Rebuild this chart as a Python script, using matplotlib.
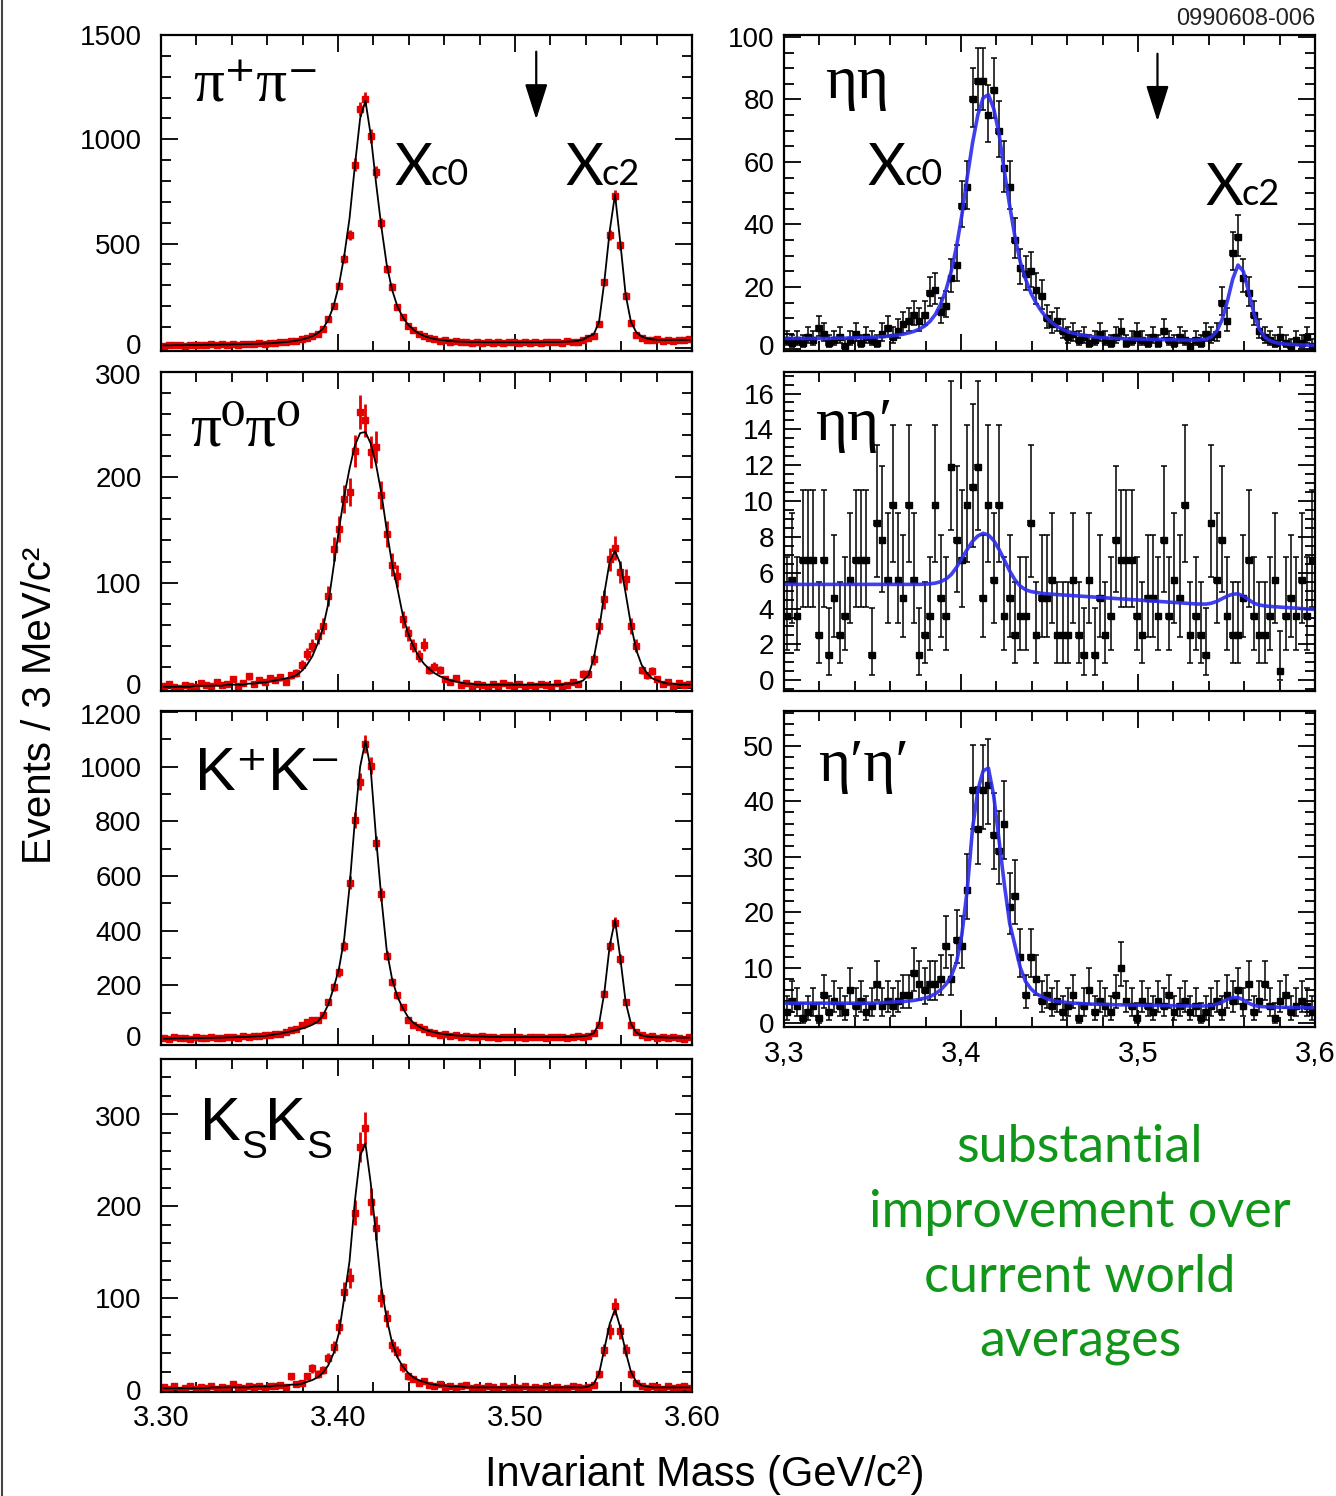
import numpy as np
import matplotlib
matplotlib.use("Agg")
import matplotlib.pyplot as plt
from matplotlib.lines import Line2D
from matplotlib.transforms import ScaledTranslation
from matplotlib.ticker import MultipleLocator, FuncFormatter, NullFormatter

# ---------------- binning ----------------
mass_lo = 3.30
mass_hi = 3.60
bin_width = 0.003
n_bins = 100

# ---------------- pi+ pi- ----------------
pipi_data = [10, 14, 12, 15, 11, 16, 13, 15, 12, 18,
             14, 17, 15, 19, 16, 20, 18, 17, 22, 20,
             24, 22, 28, 26, 33, 34, 42, 45, 58, 66,
             90, 140, 202, 298, 427, 540, 879, 1145, 1194, 1016,
             842, 597, 379, 294, 194, 150, 105, 88, 66, 58,
             45, 43, 35, 36, 30, 32, 28, 30, 25, 28,
             24, 28, 25, 27, 23, 29, 26, 24, 28, 25,
             27, 24, 29, 26, 30, 25, 31, 28, 30, 38,
             48, 55, 113, 314, 540, 730, 492, 250, 121, 60,
             48, 40, 36, 42, 34, 38, 35, 40, 37, 42]
pipi_fit = [12, 12, 13, 13, 13, 14, 14, 14, 15, 15,
            15, 16, 16, 17, 17, 18, 18, 19, 20, 21,
            22, 24, 26, 28, 31, 35, 40, 47, 56, 70,
            92, 135, 200, 300, 440, 620, 870, 1100, 1185, 1020,
            790, 580, 400, 280, 200, 148, 112, 88, 70, 58,
            49, 43, 38, 35, 33, 31, 30, 29, 28, 28,
            27, 27, 27, 27, 27, 27, 27, 27, 27, 27,
            27, 27, 28, 28, 28, 29, 30, 31, 34, 40,
            55, 65, 125, 320, 560, 735, 505, 255, 125, 75,
            55, 45, 41, 39, 38, 38, 38, 38, 38, 38]

# ---------------- pi0 pi0 ----------------
pi0pi0_data = [2, 4, 1, 0, 3, 2, 1, 5, 3, 2,
               6, 3, 4, 8, 2, 5, 11, 4, 7, 6,
               9, 7, 10, 6, 12, 14, 22, 32, 40, 49,
               59, 87, 132, 151, 179, 186, 225, 262, 254, 224,
               229, 183, 146, 117, 106, 65, 52, 40, 30, 41,
               17, 20, 17, 8, 6, 9, 3, 5, 2, 4,
               3, 1, 4, 2, 5, 3, 2, 4, 1, 3,
               2, 4, 3, 1, 5, 2, 3, 6, 4, 13,
               13, 27, 59, 84, 122, 133, 110, 103, 59, 40,
               17, 12, 16, 8, 4, 6, 2, 5, 3, 4]
pi0pi0_fit = [1, 1, 1, 1, 1, 1, 2, 2, 2, 2,
              2, 2, 3, 3, 3, 3, 4, 4, 5, 5,
              6, 7, 8, 9, 10, 12, 16, 22, 30, 42,
              57, 80, 115, 150, 182, 208, 230, 242, 243, 232,
              212, 185, 150, 118, 95, 70, 52, 40, 30, 23,
              18, 14, 11, 9, 7, 6, 5, 4, 4, 3,
              3, 3, 3, 3, 3, 3, 3, 3, 3, 3,
              3, 3, 3, 3, 3, 3, 4, 4, 5, 7,
              12, 28, 55, 90, 120, 130, 118, 90, 60, 36,
              22, 14, 9, 7, 5, 4, 4, 3, 3, 3]

# ---------------- K+ K- ----------------
kk_data = [8, 5, 10, 6, 9, 4, 11, 7, 8, 12,
           9, 6, 13, 10, 8, 14, 12, 16, 15, 20,
           18, 24, 22, 30, 36, 42, 55, 67, 73, 75,
           91, 139, 194, 248, 345, 576, 806, 945, 1085, 1004,
           721, 533, 309, 212, 164, 121, 73, 55, 48, 40,
           30, 25, 18, 22, 15, 18, 12, 16, 13, 11,
           14, 10, 12, 9, 13, 11, 10, 12, 8, 11,
           10, 13, 9, 12, 11, 10, 8, 12, 14, 10,
           15, 25, 55, 170, 345, 430, 297, 139, 55, 28,
           18, 12, 15, 9, 10, 6, 12, 8, 3, 10]
kk_fit = [5, 5, 6, 6, 6, 7, 7, 7, 8, 8,
          9, 9, 10, 10, 11, 11, 12, 13, 14, 15,
          18, 21, 24, 28, 32, 37, 42, 48, 56, 68,
          90, 130, 190, 260, 370, 560, 800, 1000, 1095, 990,
          740, 520, 330, 225, 160, 118, 85, 64, 50, 40,
          33, 28, 24, 21, 19, 17, 16, 15, 14, 13,
          13, 12, 12, 12, 11, 11, 11, 11, 11, 11,
          11, 11, 11, 11, 11, 11, 12, 12, 13, 14,
          17, 25, 60, 175, 345, 440, 300, 140, 60, 28,
          17, 13, 11, 10, 10, 9, 9, 9, 9, 9]

# ---------------- Ks Ks ----------------
ksks_data = [3, 1, 4, 0, 2, 5, 1, 3, 2, 4,
             1, 3, 2, 7, 3, 2, 4, 3, 5, 2,
             5, 4, 6, 3, 15, 7, 8, 15, 24, 18,
             22, 35, 47, 69, 107, 122, 193, 264, 285, 205,
             176, 100, 78, 49, 42, 25, 15, 12, 8, 10,
             6, 4, 7, 3, 5, 2, 4, 6, 2, 3,
             2, 5, 3, 1, 4, 2, 3, 2, 4, 1,
             3, 2, 4, 2, 3, 1, 2, 4, 3, 2,
             3, 6, 18, 44, 64, 91, 64, 44, 18, 8,
             4, 2, 5, 3, 1, 4, 2, 3, 4, 2]
ksks_fit = [2, 2, 2, 2, 2, 2, 2, 2, 2, 3,
            3, 3, 3, 3, 3, 3, 3, 4, 4, 4,
            4, 5, 5, 5, 6, 6, 7, 9, 11, 14,
            19, 27, 40, 62, 100, 140, 205, 255, 268, 225,
            168, 112, 78, 52, 36, 26, 19, 14, 11, 9,
            7, 6, 5, 5, 4, 4, 4, 3, 3, 3,
            3, 3, 3, 3, 3, 3, 3, 3, 3, 3,
            3, 3, 3, 3, 3, 3, 3, 3, 3, 3,
            4, 7, 18, 45, 72, 88, 68, 42, 20, 9,
            5, 4, 3, 3, 3, 3, 3, 3, 3, 3]

# ---------------- eta eta ----------------
etaeta_data = [3, 2, 3, 2, 4, 3, 7, 5, 2, 3,
               4, 1, 3, 5, 2, 4, 3, 2, 5, 7,
               4, 6, 8, 9, 11, 9, 11, 18, 19, 12,
               14, 23, 27, 46, 52, 80, 86, 86, 75, 83,
               70, 58, 52, 35, 26, 24, 25, 19, 17, 10,
               8, 9, 6, 4, 5, 3, 4, 2, 3, 5,
               3, 2, 4, 6, 2, 3, 5, 3, 2, 4,
               2, 6, 3, 2, 4, 3, 1, 3, 2, 5,
               4, 5, 15, 9, 31, 36, 23, 18, 11, 6,
               4, 3, 2, 4, 2, 1, 3, 2, 4, 1]
etaeta_fit = [3.5, 3.5, 3.5, 3.5, 3.5, 3.5, 3.5, 3.5, 3.5, 3.6,
              3.6, 3.6, 3.7, 3.7, 3.8, 3.8, 3.9, 4.0, 4.1, 4.2,
              4.4, 4.6, 4.9, 5.3, 5.8, 6.5, 7.5, 9.0, 11.2, 14.5,
              19, 25, 33, 43, 55, 66, 75, 80.5, 81.5, 77,
              69, 57, 46, 36, 28, 22.5, 18, 14.8, 12.2, 10,
              8.5, 7.3, 6.4, 5.7, 5.2, 4.8, 4.5, 4.2, 4.0, 3.8,
              3.7, 3.6, 3.5, 3.5, 3.4, 3.4, 3.3, 3.3, 3.2, 3.2,
              3.2, 3.1, 3.1, 3.1, 3.0, 3.0, 3.0, 3.0, 3.1, 3.3,
              4.0, 5.8, 9.5, 15.5, 22.5, 27, 25, 18.5, 11.5, 6.5,
              4.0, 2.8, 2.2, 1.9, 1.7, 1.6, 1.5, 1.4, 1.4, 1.3]
etaeta_weight = 1.0

# ---------------- eta eta' ----------------
etaetap_data = [3.6, 5.6, 3.6, 6.7, 6.7, 6.7, 2.5, 6.7, 1.4, 4.6,
                2.5, 3.6, 5.6, 6.7, 6.7, 6.7, 1.4, 8.8, 7.8, 5.6,
                9.8, 5.6, 4.6, 9.8, 5.6, 1.4, 2.5, 3.6, 9.8, 4.6,
                3.6, 11.9, 7.8, 6.7, 9.8, 10.8, 11.9, 4.6, 9.8, 5.6,
                9.8, 3.6, 4.6, 2.5, 3.6, 3.6, 8.8, 2.5, 4.6, 4.6,
                5.6, 2.5, 2.5, 2.5, 5.6, 2.5, 1.4, 5.6, 1.4, 4.6,
                2.5, 3.6, 7.8, 6.7, 6.7, 6.7, 3.6, 2.5, 4.6, 4.6,
                3.6, 7.8, 3.6, 5.6, 4.6, 9.8, 2.5, 3.6, 2.5, 1.4,
                8.8, 5.6, 7.8, 3.6, 2.5, 2.5, 4.6, 6.7, 3.6, 2.5,
                2.5, 3.6, 5.6, 0.5, 3.6, 4.6, 3.6, 5.6, 3.6, 6.7]
etaetap_fit = [5.35, 5.35, 5.35, 5.35, 5.35, 5.35, 5.35, 5.35, 5.35, 5.35,
               5.35, 5.35, 5.35, 5.35, 5.35, 5.35, 5.35, 5.35, 5.35, 5.35,
               5.35, 5.35, 5.35, 5.35, 5.35, 5.35, 5.36, 5.38, 5.42, 5.5,
               5.65, 5.9, 6.3, 6.8, 7.3, 7.75, 8.05, 8.2, 8.1, 7.8,
               7.3, 6.7, 6.1, 5.6, 5.25, 5.05, 4.95, 4.9, 4.85, 4.82,
               4.8, 4.78, 4.76, 4.74, 4.72, 4.7, 4.68, 4.66, 4.64, 4.62,
               4.6, 4.58, 4.56, 4.54, 4.52, 4.5, 4.48, 4.46, 4.44, 4.42,
               4.4, 4.38, 4.36, 4.34, 4.32, 4.3, 4.28, 4.26, 4.25, 4.25,
               4.3, 4.4, 4.55, 4.7, 4.8, 4.82, 4.7, 4.5, 4.3, 4.2,
               4.15, 4.12, 4.1, 4.08, 4.06, 4.04, 4.02, 4.0, 3.98, 3.96]
etaetap_weight = 1.08

# ---------------- eta' eta' ----------------
etapetap_data = [2, 4, 3, 1, 2, 3, 1, 5, 2, 4,
                 3, 2, 6, 3, 4, 2, 3, 7, 3, 4,
                 3, 4, 5, 5, 9, 7, 6, 7, 7, 8,
                 14, 8, 15, 14, 24, 42, 35, 42, 43, 34,
                 31, 36, 21, 23, 12, 5, 12, 8, 4, 5,
                 3, 4, 2, 3, 5, 1, 3, 6, 2, 4,
                 3, 2, 5, 10, 4, 3, 1, 4, 3, 2,
                 4, 3, 5, 2, 3, 4, 2, 3, 1, 2,
                 3, 4, 2, 5, 4, 6, 3, 7, 2, 4,
                 7, 3, 1, 4, 5, 2, 3, 4, 3, 2]
etapetap_fit = [3.6, 3.6, 3.6, 3.6, 3.6, 3.6, 3.6, 3.6, 3.6, 3.6,
                3.6, 3.6, 3.6, 3.6, 3.6, 3.6, 3.6, 3.65, 3.7, 3.75,
                3.8, 3.85, 3.9, 4.0, 4.1, 4.3, 4.5, 4.8, 5.3, 6.0,
                7.0, 8.5, 11.0, 16.0, 24.0, 35.0, 42.0, 45.5, 46.0, 41.0,
                33.0, 25.0, 18.0, 14.0, 10.0, 7.5, 6.2, 5.3, 4.8, 4.4,
                4.1, 3.9, 3.8, 3.7, 3.6, 3.55, 3.5, 3.45, 3.4, 3.4,
                3.35, 3.35, 3.3, 3.3, 3.3, 3.25, 3.25, 3.2, 3.2, 3.2,
                3.2, 3.15, 3.15, 3.15, 3.1, 3.1, 3.1, 3.1, 3.1, 3.1,
                3.2, 3.4, 3.8, 4.3, 4.6, 4.6, 4.2, 3.6, 3.2, 3.0,
                2.95, 2.9, 2.9, 2.85, 2.85, 2.8, 2.8, 2.8, 2.75, 2.75]
etapetap_weight = 1.15

green_lines = ["substantial", "improvement over", "current world", "averages"]

# ---------------- figure ----------------
plt.rcParams['font.family'] = ['Liberation Sans', 'DejaVu Sans']
plt.rcParams['mathtext.fontset'] = 'custom'
plt.rcParams['mathtext.rm'] = 'Liberation Sans'
plt.rcParams['mathtext.default'] = 'regular'

W, H = 1336, 1496
fig = plt.figure(figsize=(W / 100, H / 100), dpi=100)

mass = mass_lo + bin_width * (np.arange(n_bins) + 0.5)


def px_axes(x0, y0, x1, y1):
    return fig.add_axes([x0 / W, 1 - y1 / H, (x1 - x0) / W, (y1 - y0) / H])


def style(ax, ylim, ymaj, ymin, ypad, xfmt=None):
    ax.set_xlim(mass_lo, mass_hi)
    ax.set_ylim(*ylim)
    ax.xaxis.set_major_locator(MultipleLocator(0.1))
    ax.xaxis.set_minor_locator(MultipleLocator(0.02))
    ax.yaxis.set_major_locator(MultipleLocator(ymaj))
    ax.yaxis.set_minor_locator(MultipleLocator(ymin))
    ax.tick_params(which='both', direction='in', top=True, right=True,
                   width=1.3, colors='k')
    ax.tick_params(which='major', length=12)
    ax.tick_params(which='minor', length=7)
    ax.tick_params(axis='y', labelsize=20, pad=ypad)
    ax.tick_params(axis='x', labelsize=21, pad=9)
    for s in ax.spines.values():
        s.set_linewidth(1.6)
    if xfmt is None:
        ax.xaxis.set_major_formatter(NullFormatter())
    else:
        ax.xaxis.set_major_formatter(FuncFormatter(xfmt))


def draw_left(ax, data, fit):
    d = np.asarray(data, float)
    ax.errorbar(mass, d, yerr=np.sqrt(np.clip(d, 0, None)), xerr=bin_width / 2,
                fmt='s', ms=5, color='#e50000', mec='#e50000',
                elinewidth=2.0, capsize=0, zorder=2)
    ax.plot(mass, fit, color='k', lw=1.3, zorder=3)


def draw_right(ax, data, fit, w):
    d = np.asarray(data, float)
    n = d / w
    lo = w * np.sqrt(np.clip(n - 0.25, 0, None))
    hi = w * (np.sqrt(n + 0.75) + 1)
    ax.errorbar(mass, d, yerr=[lo, hi], xerr=bin_width / 2, fmt='s', ms=4.4,
                color='k', elinewidth=1.1, capsize=2.5, capthick=1.1, zorder=2)
    ax.plot(mass, fit, color='#2b2bea', lw=2.6, alpha=0.9, zorder=3)


greek = ['Liberation Serif', 'DejaVu Serif']
sans = ['Liberation Sans', 'DejaVu Sans']
gill = ['Lato', 'Open Sans', 'DejaVu Sans']


def chi_label(ax, x, y, sub):
    ax.text(x, y, 'Χ', transform=ax.transAxes, fontsize=42, family=gill,
            va='baseline', ha='left')
    ax.annotate(sub, xy=(x, y), xycoords='axes fraction', xytext=(26, 0),
                textcoords='offset points', fontsize=26, family=gill,
                va='baseline', ha='left')


def sub_label(ax, x, y, parts):
    for txt, fs, dx, dy in parts:
        ax.annotate(txt, xy=(x, y), xycoords='axes fraction', xytext=(dx, dy),
                    textcoords='offset points', fontsize=fs, family=sans,
                    va='baseline', ha='left')


def arrow(ax, x, y0, y1):
    ax.annotate('', xy=(x, y1), xytext=(x, y0),
                arrowprops=dict(arrowstyle='-|>,head_length=1.1,head_width=0.35',
                                color='k', lw=1.6, mutation_scale=20,
                                shrinkA=0, shrinkB=0))


# left column
ax1 = px_axes(161, 35, 692, 351)
ax2 = px_axes(161, 372, 692, 691)
ax3 = px_axes(161, 711, 692, 1045)
ax4 = px_axes(161, 1059, 692, 1392)
# right column
ax5 = px_axes(784, 35, 1315, 351)
ax6 = px_axes(784, 372, 1315, 691)
ax7 = px_axes(784, 711, 1315, 1027)

draw_left(ax1, pipi_data, pipi_fit)
style(ax1, (-15, 1500), 500, 100, 14)
draw_left(ax2, pi0pi0_data, pi0pi0_fit)
style(ax2, (-3, 300), 100, 20, 14)
draw_left(ax3, kk_data, kk_fit)
style(ax3, (-18, 1204), 200, 100, 14)
draw_left(ax4, ksks_data, ksks_fit)
style(ax4, (-2, 360), 100, 20, 14, xfmt=lambda v, p: f"{v:.2f}")

draw_right(ax5, etaeta_data, etaeta_fit, etaeta_weight)
style(ax5, (-0.5, 100.6), 20, 5, 7)
draw_right(ax6, etaetap_data, etaetap_fit, etaetap_weight)
style(ax6, (-0.6, 17.2), 2, 0.5, 7)
draw_right(ax7, etapetap_data, etapetap_fit, etapetap_weight)
style(ax7, (-0.7, 56.3), 10, 2, 7, xfmt=lambda v, p: f"{v:.1f}".replace('.', ','))

# panel labels
ax1.text(0.06, 0.79, 'π⁺π⁻', transform=ax1.transAxes, fontsize=44, family=greek, va='baseline')
ax2.text(0.055, 0.77, 'π⁰π⁰', transform=ax2.transAxes, fontsize=44, family=greek, va='baseline')
ax3.text(0.064, 0.763, 'K⁺K⁻', transform=ax3.transAxes, fontsize=44, family=sans, va='baseline')
sub_label(ax4, 0.073, 0.757, [('K', 44, 0, 0), ('S', 28, 30, -13),
                              ('K', 44, 47, 0), ('S', 28, 77, -13)])
ax5.text(0.077, 0.80, 'ηη', transform=ax5.transAxes, fontsize=44, family=greek, va='baseline')
ax6.text(0.058, 0.787, 'ηη′', transform=ax6.transAxes, fontsize=44, family=greek, va='baseline')
ax7.text(0.064, 0.78, 'η′η′', transform=ax7.transAxes, fontsize=44, family=greek, va='baseline')

chi_label(ax1, 0.44, 0.525, 'c0')
chi_label(ax1, 0.761, 0.525, 'c2')
chi_label(ax5, 0.158, 0.525, 'c0')
chi_label(ax5, 0.793, 0.462, 'c2')

arrow(ax1, 3.512, 1420, 1095)
arrow(ax5, 3.511, 94.6, 73.0)

# axis titles
fig.text(40 / W, 1 - 705 / H, 'Events / 3 MeV/c²', rotation=90, ha='center', va='center', fontsize=29)
fig.text(705 / W, 1 - 1475 / H, 'Invariant Mass (GeV/c²)', ha='center', va='center', fontsize=30)
fig.text(1315 / W, 1 - 19 / H, '0990608-006', ha='right', va='center', fontsize=17, color='#222222')

# green comment
for k, line in enumerate(green_lines):
    fig.text(1080 / W, 1 - (1148 + 64.5 * k) / H, line, ha='center', va='center',
             fontsize=37.5, family=gill, color='#12961a')

# slide border
fig.add_artist(Line2D([2 / W, 2 / W], [0, 1], color='#444444', lw=1.5))

# nudge the y labels at the shared panel edges apart (as in the original layout)
fig.canvas.draw()
up = ScaledTranslation(0, 4 / 100, fig.dpi_scale_trans)
down = ScaledTranslation(0, -2 / 100, fig.dpi_scale_trans)
for ax in (ax1, ax2, ax3, ax5):
    for t in ax.yaxis.get_major_ticks():
        if abs(t.get_loc()) < 1e-9:
            t.label1.set_transform(t.label1.get_transform() + up)
for ax in (ax2, ax3, ax4):
    top = max(v for v in ax.get_yticks() if v <= ax.get_ylim()[1])
    for t in ax.yaxis.get_major_ticks():
        if abs(t.get_loc() - top) < 1e-9:
            t.label1.set_transform(t.label1.get_transform() + down)

fig.savefig('out.png', dpi=100)
